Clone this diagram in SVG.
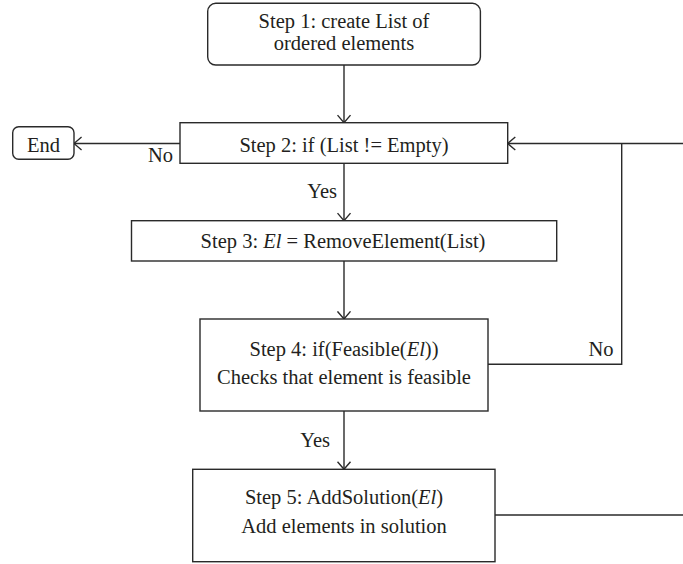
<svg xmlns="http://www.w3.org/2000/svg" width="683" height="564" viewBox="0 0 683 564">
<defs>
<style>
.box{fill:#fff;stroke:#2a2a2a;stroke-width:1.4}
.ln{fill:none;stroke:#2a2a2a;stroke-width:1.4}
.t{font-family:"Liberation Serif","Times New Roman",serif;font-size:20.5px;fill:#231f20}
.c{text-anchor:middle}
.i{font-style:italic}
</style>
<marker id="arr" markerUnits="userSpaceOnUse" markerWidth="9" markerHeight="15" viewBox="0 0 9 15" refX="8.3" refY="7.5" orient="auto">
<path d="M0.7,1 L8.3,7.5 L0.7,14" fill="none" stroke="#2a2a2a" stroke-width="1.4"/>
</marker>
</defs>
<rect width="683" height="564" fill="#fff"/>
<g id="connectors">
<line class="ln" x1="344" y1="65" x2="344" y2="122.7" marker-end="url(#arr)"/>
<line class="ln" x1="180" y1="143.5" x2="74" y2="143.5" marker-end="url(#arr)"/>
<line class="ln" x1="344" y1="163.3" x2="344" y2="220.7" marker-end="url(#arr)"/>
<line class="ln" x1="344" y1="261" x2="344" y2="319" marker-end="url(#arr)"/>
<line class="ln" x1="344" y1="411" x2="344" y2="469.3" marker-end="url(#arr)"/>
<polyline class="ln" points="488,364.3 621.7,364.3 621.7,143.5"/>
<line class="ln" x1="683" y1="143.5" x2="507.7" y2="143.5" marker-end="url(#arr)"/>
<line class="ln" x1="495" y1="515" x2="683" y2="515"/>
<text class="t" x="148" y="162">No</text>
<text class="t" x="337" y="198" text-anchor="end">Yes</text>
<text class="t" x="588.5" y="356">No</text>
<text class="t" x="330" y="446.5" text-anchor="end">Yes</text>
</g>
<g id="step1">
<rect class="box" x="207.7" y="3.3" width="272.7" height="61.7" rx="8"/>
<text class="t c" x="344" y="28">Step 1: create List of</text>
<text class="t c" x="344" y="50">ordered elements</text>
</g>
<g id="end">
<rect class="box" x="12.7" y="126.7" width="61.3" height="32.6" rx="6"/>
<text class="t c" x="43.4" y="151.5">End</text>
</g>
<g id="step2">
<rect class="box" x="180" y="122.7" width="327.7" height="40.6"/>
<text class="t c" x="344" y="151.5">Step 2: if (List != Empty)</text>
</g>
<g id="step3">
<rect class="box" x="131.5" y="220.7" width="425.2" height="40.3"/>
<text class="t c" x="343" y="248.3">Step 3: <tspan class="i">El</tspan> = RemoveElement(List)</text>
</g>
<g id="step4">
<rect class="box" x="200" y="319" width="288" height="92"/>
<text class="t c" x="344" y="356">Step 4: if(Feasible(<tspan class="i">El</tspan>))</text>
<text class="t c" x="344" y="384">Checks that element is feasible</text>
</g>
<g id="step5">
<rect class="box" x="192.7" y="469.3" width="302.3" height="92.4"/>
<text class="t c" x="344" y="504">Step 5: AddSolution(<tspan class="i">El</tspan>)</text>
<text class="t c" x="344" y="532.7">Add elements in solution</text>
</g>
</svg>
